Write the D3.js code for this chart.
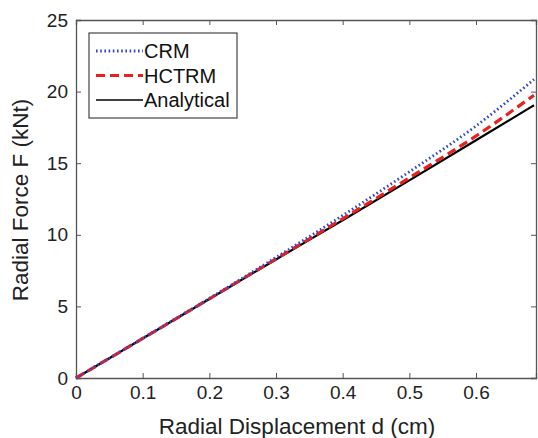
<!DOCTYPE html>
<html>
<head>
<meta charset="utf-8">
<script src="https://cdn.jsdelivr.net/npm/d3@7"></script>
<style>
  body { margin: 0; background: #fff; }
  svg { display: block; font-family: "Liberation Sans", Arial, sans-serif; }
</style>
</head>
<body>
<script>
// displacement d (cm) and radial force F (kNt)
var dVals = [0, 0.1, 0.2, 0.3, 0.4, 0.5, 0.6, 0.687];
var crm = [0, 2.77, 5.56, 8.42, 11.35, 14.4, 17.6, 20.85];
var hctrm = [0, 2.76, 5.53, 8.32, 11.12, 13.98, 16.9, 19.75];
var analytical = [0, 2.76, 5.52, 8.28, 11.02, 13.8, 16.6, 19.05];

var seriesNames = ["CRM", "HCTRM", "Analytical"];
var xTicks = [0, 0.1, 0.2, 0.3, 0.4, 0.5, 0.6];
var yTicks = [0, 5, 10, 15, 20, 25];

var W = 538, H = 438;
var margin = {top: 20, right: 2, bottom: 60, left: 76};
var w = W - margin.left - margin.right,
    h = H - margin.top - margin.bottom;

var xScale = d3.scaleLinear().domain([0, 0.69]).range([0, w]);
var yScale = d3.scaleLinear().domain([0, 25]).range([h, 0]);

var svg = d3.select("body").append("svg")
    .attr("width", W)
    .attr("height", H);

var g = svg.append("g")
    .attr("transform", "translate(" + margin.left + "," + margin.top + ")");

var axisColor = "#555";
var tickFont = "19px";

// axes with inward ticks
var xAxis = g.append("g")
    .attr("transform", "translate(0," + h + ")")
    .call(d3.axisBottom(xScale).tickValues(xTicks).tickSize(-5).tickPadding(8)
      .tickFormat(function (d) { return d === 0 ? "0" : d3.format(".1f")(d); }));
var xTop = g.append("g")
    .call(d3.axisTop(xScale).tickValues(xTicks).tickSize(-5).tickFormat(""));
var yAxis = g.append("g")
    .call(d3.axisLeft(yScale).tickValues(yTicks).tickSize(-5).tickPadding(8));
var yRight = g.append("g")
    .attr("transform", "translate(" + w + ",0)")
    .call(d3.axisRight(yScale).tickValues(yTicks).tickSize(-5).tickFormat(""));

[xAxis, xTop, yAxis, yRight].forEach(function (a) {
  a.select(".domain").attr("stroke", axisColor).attr("stroke-width", 1.3);
  a.selectAll(".tick line").attr("stroke", axisColor);
  a.selectAll(".tick text")
    .attr("fill", "#222")
    .attr("font-size", tickFont)
    .attr("font-family", "Liberation Sans, Arial, sans-serif");
});

// lines
var styles = {
  CRM: {color: "#3346c8", width: 2.8, dash: "1.6,2.6", values: crm},
  HCTRM: {color: "#e8211d", width: 3.2, dash: "9,5", values: hctrm},
  Analytical: {color: "#000", width: 2.2, dash: null, values: analytical}
};

var line = d3.line()
    .curve(d3.curveMonotoneX)
    .x(function (d) { return xScale(d[0]); })
    .y(function (d) { return yScale(d[1]); });

["Analytical", "HCTRM", "CRM"].forEach(function (name) {
  var s = styles[name];
  var pts = dVals.map(function (d, i) { return [d, s.values[i]]; });
  g.append("path")
    .datum(pts)
    .attr("fill", "none")
    .attr("stroke", s.color)
    .attr("stroke-width", s.width)
    .attr("stroke-dasharray", s.dash)
    .attr("d", line);
});

// legend
var legend = g.append("g").attr("transform", "translate(13,13)");
legend.append("rect")
    .attr("width", 148).attr("height", 85)
    .attr("fill", "#fff")
    .attr("stroke", "#444").attr("stroke-width", 1.2);
seriesNames.forEach(function (name, i) {
  var s = styles[name];
  var yy = 18 + i * 24.5;
  legend.append("line")
      .attr("x1", 7).attr("x2", 54)
      .attr("y1", yy).attr("y2", yy)
      .attr("stroke", s.color)
      .attr("stroke-width", name === "Analytical" ? 1.6 : s.width)
      .attr("stroke-dasharray", s.dash);
  legend.append("text")
      .attr("x", 55).attr("y", yy + 7)
      .attr("font-size", "20px")
      .attr("fill", "#111")
      .text(name);
});

// axis titles
svg.append("text")
    .attr("x", 297).attr("y", 434)
    .attr("text-anchor", "middle")
    .attr("font-size", "22.5px")
    .attr("fill", "#222")
    .text("Radial Displacement d (cm)");

svg.append("text")
    .attr("transform", "translate(28,200) rotate(-90)")
    .attr("text-anchor", "middle")
    .attr("font-size", "22.5px")
    .attr("fill", "#222")
    .text("Radial Force F (kNt)");
</script>
</body>
</html>
